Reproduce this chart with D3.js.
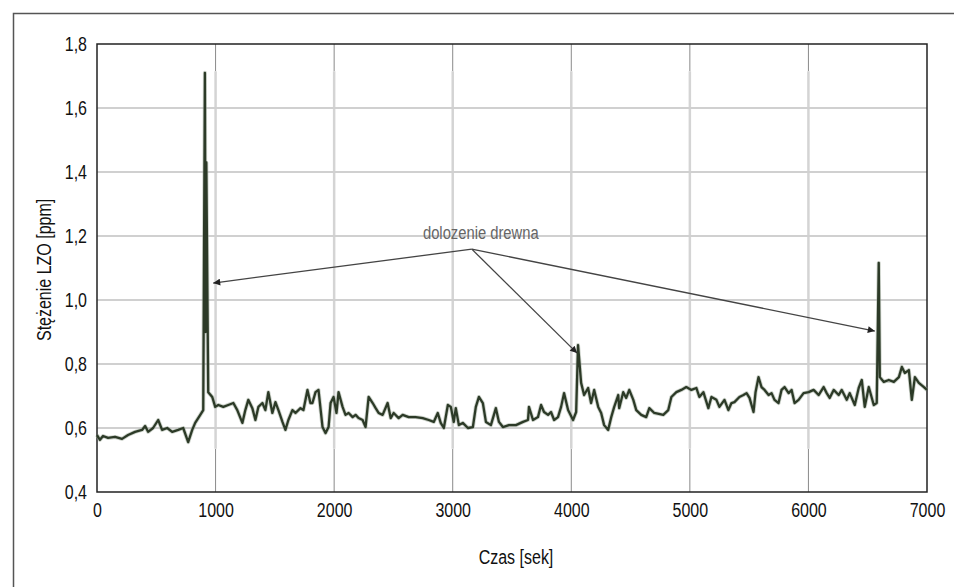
<!doctype html>
<html lang="pl">
<head>
<meta charset="utf-8">
<title>Stężenie LZO</title>
<style>
  body { margin: 0; background: #fff; }
  svg text { font-family: "Liberation Sans", Arial, sans-serif; }
</style>
</head>
<body>
<div id="chart"></div>
<script src="https://cdn.jsdelivr.net/npm/d3@7"></script>
<script>
// time [s]
var czas = [0, 25, 51, 93, 152, 211, 262, 321, 380, 406, 431, 473, 516, 549, 592, 634, 685, 727, 769, 803,
  828, 871, 896, 910, 916, 922, 938, 972, 997, 1023, 1065, 1107, 1150, 1183, 1226, 1251, 1276, 1310, 1336, 1361,
  1395, 1420, 1445, 1479, 1505, 1530, 1564, 1589, 1614, 1648, 1674, 1716, 1741, 1775, 1800, 1817, 1843, 1868, 1902, 1927,
  1953, 1970, 1995, 2020, 2037, 2071, 2096, 2122, 2156, 2181, 2206, 2240, 2265, 2291, 2325, 2350, 2375, 2409, 2451, 2477,
  2502, 2544, 2578, 2629, 2688, 2747, 2798, 2840, 2874, 2899, 2925, 2959, 2984, 3009, 3026, 3052, 3085, 3128, 3170, 3195,
  3221, 3254, 3280, 3322, 3364, 3390, 3423, 3474, 3533, 3593, 3635, 3643, 3677, 3719, 3745, 3770, 3804, 3829, 3855, 3888,
  3914, 3939, 3973, 4015, 4041, 4057, 4083, 4108, 4142, 4167, 4193, 4227, 4252, 4277, 4311, 4337, 4362, 4396, 4404, 4438,
  4463, 4489, 4523, 4548, 4590, 4632, 4658, 4700, 4776, 4818, 4844, 4886, 4928, 4970, 5013, 5055, 5080, 5114, 5156, 5182,
  5224, 5249, 5292, 5325, 5351, 5376, 5418, 5452, 5478, 5503, 5537, 5554, 5579, 5604, 5630, 5664, 5689, 5714, 5748, 5773,
  5799, 5833, 5858, 5883, 5917, 5959, 6002, 6044, 6086, 6128, 6154, 6179, 6213, 6255, 6281, 6323, 6348, 6391, 6424, 6450,
  6475, 6509, 6551, 6576, 6593, 6602, 6636, 6678, 6720, 6763, 6788, 6813, 6847, 6872, 6898, 6931, 6974, 7000];

// LZO concentration [ppm]
var lzo = [0.578, 0.563, 0.575, 0.569, 0.572, 0.566, 0.578, 0.588, 0.594, 0.606, 0.588, 0.600, 0.625, 0.594, 0.600, 0.588, 0.594, 0.600, 0.556, 0.594,
  0.616, 0.641, 0.656, 1.710, 0.900, 1.430, 0.712, 0.697, 0.666, 0.672, 0.666, 0.672, 0.678, 0.656, 0.616, 0.656, 0.688, 0.662, 0.625, 0.666,
  0.678, 0.656, 0.712, 0.647, 0.681, 0.656, 0.619, 0.594, 0.625, 0.656, 0.647, 0.662, 0.656, 0.719, 0.678, 0.678, 0.712, 0.719, 0.603, 0.584,
  0.603, 0.678, 0.697, 0.647, 0.712, 0.666, 0.641, 0.647, 0.634, 0.641, 0.631, 0.625, 0.603, 0.697, 0.678, 0.662, 0.647, 0.641, 0.678, 0.631,
  0.647, 0.631, 0.641, 0.634, 0.634, 0.631, 0.625, 0.619, 0.647, 0.616, 0.600, 0.672, 0.666, 0.619, 0.662, 0.609, 0.616, 0.600, 0.603, 0.666,
  0.697, 0.678, 0.619, 0.609, 0.662, 0.619, 0.603, 0.609, 0.609, 0.619, 0.625, 0.666, 0.625, 0.634, 0.672, 0.650, 0.641, 0.650, 0.625, 0.634,
  0.666, 0.709, 0.656, 0.625, 0.650, 0.859, 0.741, 0.703, 0.725, 0.678, 0.719, 0.666, 0.647, 0.609, 0.594, 0.634, 0.666, 0.703, 0.662, 0.712,
  0.694, 0.719, 0.688, 0.656, 0.641, 0.634, 0.662, 0.647, 0.641, 0.656, 0.697, 0.712, 0.719, 0.728, 0.719, 0.725, 0.697, 0.712, 0.662, 0.697,
  0.688, 0.666, 0.688, 0.656, 0.678, 0.681, 0.697, 0.703, 0.709, 0.694, 0.650, 0.712, 0.759, 0.728, 0.719, 0.703, 0.709, 0.688, 0.678, 0.719,
  0.728, 0.709, 0.719, 0.678, 0.688, 0.709, 0.712, 0.719, 0.703, 0.728, 0.709, 0.694, 0.719, 0.703, 0.719, 0.688, 0.709, 0.672, 0.725, 0.750,
  0.666, 0.728, 0.672, 0.678, 1.116, 0.759, 0.744, 0.750, 0.744, 0.759, 0.791, 0.772, 0.781, 0.688, 0.759, 0.741, 0.728, 0.719];

var xTicks = [0, 1000, 2000, 3000, 4000, 5000, 6000, 7000];
var yTicks = [0.4, 0.6, 0.8, 1.0, 1.2, 1.4, 1.6, 1.8];

// annotation "dolozenie drewna": label point, arrow start, arrow ends
var notatka = "dolozenie drewna";
var notatkaPoz = [3237, 1.19];
var strzalkaStart = [3161, 1.159];
var strzalkaKoniec = [[980, 1.053], [4049, 0.834], [6560, 0.903]];

var width = 954, height = 587;
var margin = { top: 44, right: 27, bottom: 95, left: 97 };

var svg = d3.select("#chart").append("svg")
  .attr("width", width)
  .attr("height", height);

var x = d3.scaleLinear().domain([0, 7000]).range([margin.left, width - margin.right]);
var y = d3.scaleLinear().domain([0.4, 1.8]).range([height - margin.bottom, margin.top]);

// narrow look: squeeze the regular face horizontally
function narrow(sel) {
  sel.each(function() {
    var w = this.getComputedTextLength();
    d3.select(this)
      .attr("textLength", w * 0.82)
      .attr("lengthAdjust", "spacingAndGlyphs");
  });
}

// outer frame (only top and left edge visible)
svg.append("path")
  .attr("d", "M13.5,587V13.5H954")
  .attr("fill", "none")
  .attr("stroke", "#555")
  .attr("stroke-width", 1.5);

// grid: the scanned plot area has lighter, wider lines
var bandTop = y(1.715), bandBottom = y(0.535);
var grid = svg.append("g");
grid.selectAll(".vdark")
  .data(xTicks.slice(1, -1))
  .enter().append("line")
  .attr("x1", function(d) { return x(d); })
  .attr("x2", function(d) { return x(d); })
  .attr("y1", y(1.8)).attr("y2", y(0.4))
  .attr("stroke", "#8a8a8a").attr("stroke-width", 1);
grid.append("rect")
  .attr("x", x(0)).attr("y", bandTop)
  .attr("width", x(7000) - x(0)).attr("height", bandBottom - bandTop)
  .attr("fill", "#fff");
grid.selectAll(".vlight")
  .data(xTicks.slice(1, -1))
  .enter().append("line")
  .attr("x1", function(d) { return x(d); })
  .attr("x2", function(d) { return x(d); })
  .attr("y1", bandTop).attr("y2", bandBottom)
  .attr("stroke", "#d4d4d4").attr("stroke-width", 2.5);
grid.selectAll(".h")
  .data(yTicks.slice(1, -1))
  .enter().append("line")
  .attr("x1", x(0)).attr("x2", x(7000))
  .attr("y1", function(d) { return y(d); })
  .attr("y2", function(d) { return y(d); })
  .attr("stroke", "#d0d0d0").attr("stroke-width", 2);

// plot frame
svg.append("path")
  .attr("d", "M" + x(0) + "," + y(0.4) + "V" + y(1.8) + "H" + x(7000) + "V" + y(0.4) + "Z")
  .attr("fill", "none")
  .attr("stroke", "#222")
  .attr("stroke-width", 1.5);

// axes labels
var fmt = function(d) { return d3.format(".1f")(d).replace(".", ","); };
var yAxis = d3.axisLeft(y).tickValues(yTicks).tickFormat(fmt).tickSize(0).tickPadding(10);
var xAxis = d3.axisBottom(x).tickValues(xTicks).tickFormat(d3.format("d")).tickSize(0).tickPadding(11);

var gy = svg.append("g").attr("transform", "translate(" + x(0) + ",0)").call(yAxis);
var gx = svg.append("g").attr("transform", "translate(0," + y(0.4) + ")").call(xAxis);
[gx, gy].forEach(function(g) {
  g.select(".domain").remove();
  g.selectAll("text")
    .style("font-family", "'Liberation Sans', Arial, sans-serif")
    .style("font-size", "19.5px")
    .attr("fill", "#111")
    .call(narrow);
});

svg.append("text")
  .attr("transform", "translate(51," + y(1.094) + ") rotate(-90)")
  .attr("text-anchor", "middle")
  .style("font-size", "19.5px")
  .attr("fill", "#111")
  .text("Stężenie LZO [ppm]")
  .call(narrow);

svg.append("text")
  .attr("x", x(3500) + 4)
  .attr("y", 564)
  .attr("text-anchor", "middle")
  .style("font-size", "19.5px")
  .attr("fill", "#111")
  .text("Czas [sek]")
  .call(narrow);

// data line
var line = d3.line()
  .x(function(d, i) { return x(czas[i]); })
  .y(function(d) { return y(d); });

svg.append("path")
  .datum(lzo)
  .attr("fill", "none")
  .attr("stroke", "#9aa596")
  .attr("stroke-width", 4)
  .attr("stroke-opacity", 0.5)
  .attr("stroke-linejoin", "round")
  .attr("d", line);
svg.append("path")
  .datum(lzo)
  .attr("fill", "none")
  .attr("stroke", "#2c3a27")
  .attr("stroke-width", 2.3)
  .attr("stroke-linejoin", "round")
  .attr("d", line);

// annotation
svg.append("defs").append("marker")
  .attr("id", "grot")
  .attr("viewBox", "0 0 10 10")
  .attr("refX", 10).attr("refY", 5)
  .attr("markerWidth", 9).attr("markerHeight", 7)
  .attr("markerUnits", "userSpaceOnUse")
  .attr("orient", "auto")
  .append("path")
  .attr("d", "M0,0L10,5L0,10Z")
  .attr("fill", "#222");

svg.selectAll(".strzalka")
  .data(strzalkaKoniec)
  .enter().append("line")
  .attr("class", "strzalka")
  .attr("x1", x(strzalkaStart[0])).attr("y1", y(strzalkaStart[1]))
  .attr("x2", function(d) { return x(d[0]); })
  .attr("y2", function(d) { return y(d[1]); })
  .attr("stroke", "#444")
  .attr("stroke-width", 1.3)
  .attr("marker-end", "url(#grot)");

svg.append("text")
  .attr("x", x(notatkaPoz[0]))
  .attr("y", y(notatkaPoz[1]))
  .attr("text-anchor", "middle")
  .style("font-size", "18px")
  .attr("fill", "#666")
  .text(notatka)
  .call(narrow);
</script>
</body>
</html>
